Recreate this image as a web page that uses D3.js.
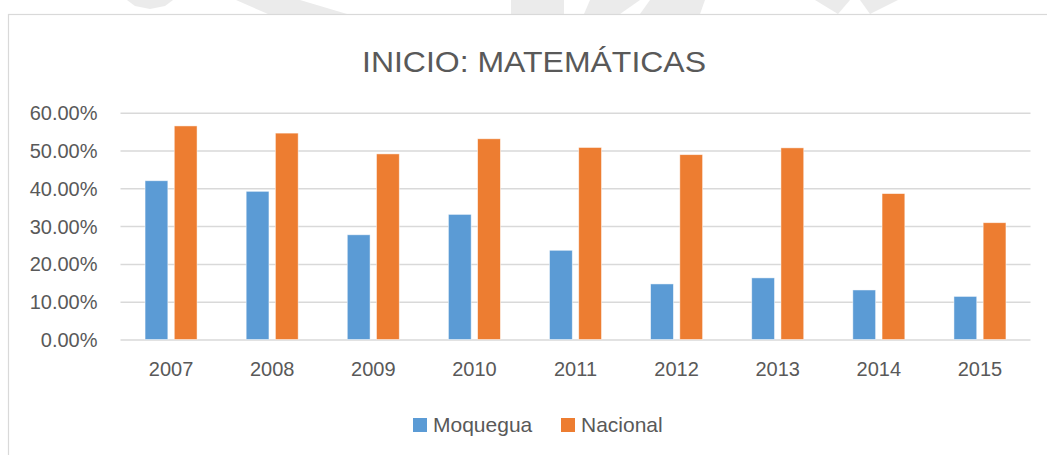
<!DOCTYPE html>
<html>
<head>
<meta charset="utf-8">
<script src="https://cdn.jsdelivr.net/npm/d3@7"></script>
<style>
  body { margin: 0; background: #fff; }
  svg text { font-family: "Liberation Sans", Arial, sans-serif; fill: #595959; }
</style>
</head>
<body>
<div id="chart"></div>
<script>
var years = ["2007", "2008", "2009", "2010", "2011", "2012", "2013", "2014", "2015"];
var moquegua = [42.0, 39.2, 27.7, 33.1, 23.6, 14.7, 16.3, 13.1, 11.4];
var nacional = [56.5, 54.6, 49.1, 53.1, 50.8, 48.9, 50.7, 38.6, 30.9];
var seriesNames = ["Moquegua", "Nacional"];
var yTicks = [0, 10, 20, 30, 40, 50, 60];

var W = 1047, H = 455;
var margin = {left: 120.5, top: 112.7, right: 16.5, bottom: 115.5},
    width = W - margin.left - margin.right,
    height = H - margin.top - margin.bottom;

var svg = d3.select("#chart").append("svg")
    .attr("width", W)
    .attr("height", H);

// faint watermark above the chart box
var wm = [
  [[127,0],[173,0],[165,6],[150,9],[135,6]],
  [[236,0],[300,0],[347,14],[268,14]],
  [[511,0],[564,0],[564,14],[511,14]],
  [[590,0],[640,0],[620,14],[584,14]],
  [[650,0],[705,0],[700,14],[640,14]],
  [[815,0],[850,0],[838,14]],
  [[860,0],[898,0],[870,14]]
];
svg.selectAll(".wm").data(wm).enter().append("polygon")
    .attr("points", function(d) { return d.map(function(p) { return p.join(","); }).join(" "); })
    .attr("fill", "#ebebeb");

// chart box
svg.append("rect")
    .attr("x", 8.5).attr("y", 14.5)
    .attr("width", W + 20).attr("height", H + 20)
    .attr("fill", "#fff")
    .attr("stroke", "#d9d9d9")
    .attr("stroke-width", 1.2);

svg.append("text")
    .attr("x", 534).attr("y", 72)
    .attr("text-anchor", "middle")
    .attr("font-size", 30)
    .attr("textLength", 344)
    .attr("lengthAdjust", "spacingAndGlyphs")
    .text("INICIO: MATEMÁTICAS");

var g = svg.append("g")
    .attr("transform", "translate(" + margin.left + "," + margin.top + ")");

var x0 = d3.scaleBand().domain(years).range([0, width]).padding(0);
var x1 = d3.scaleBand().domain(seriesNames).range([x0.bandwidth() / 2 - 26, x0.bandwidth() / 2 + 26]).paddingInner(0.22);
var y = d3.scaleLinear().domain([0, 60]).range([height, 0]);
var colours = d3.scaleOrdinal().domain(seriesNames).range(["#5B9BD5", "#ED7D31"]);

// grid
g.append("g")
    .attr("class", "grid")
    .call(d3.axisLeft(y).tickValues(yTicks).tickSize(-width).tickFormat(""))
    .call(function(s) {
      s.select(".domain").remove();
      s.selectAll("line").attr("stroke", "#d9d9d9").attr("stroke-width", 1.5);
    });

// y labels
g.append("g")
    .call(d3.axisLeft(y).tickValues(yTicks).tickSize(0).tickPadding(23)
      .tickFormat(function(d) { return d.toFixed(2) + "%"; }))
    .call(function(s) {
      s.select(".domain").remove();
      s.selectAll("text").attr("font-size", 20).attr("dy", "0.35em")
        .style("font-family", "'Liberation Sans', Arial, sans-serif").attr("fill", "#595959");
    });

// x labels
g.append("g")
    .attr("transform", "translate(0," + height + ")")
    .call(d3.axisBottom(x0).tickSize(0).tickPadding(22))
    .call(function(s) {
      s.select(".domain").remove();
      s.selectAll("text").attr("font-size", 20)
        .style("font-family", "'Liberation Sans', Arial, sans-serif").attr("fill", "#595959");
    });

var rows = years.map(function(yr, i) {
  return {year: yr, values: [{name: "Moquegua", v: moquegua[i]}, {name: "Nacional", v: nacional[i]}]};
});

g.selectAll(".yr").data(rows).enter().append("g")
    .attr("transform", function(d) { return "translate(" + x0(d.year) + ",0)"; })
  .selectAll("rect").data(function(d) { return d.values; }).enter().append("rect")
    .attr("x", function(d) { return x1(d.name); })
    .attr("y", function(d) { return y(d.v); })
    .attr("width", x1.bandwidth())
    .attr("height", function(d) { return height - y(d.v); })
    .attr("fill", function(d) { return colours(d.name); })
    .attr("stroke", "#fff")
    .attr("stroke-opacity", 0.6)
    .attr("stroke-width", 0.8);

// legend
var legendX = [413, 561];
var legend = svg.selectAll(".leg").data(seriesNames).enter().append("g")
    .attr("transform", function(d, i) { return "translate(" + legendX[i] + ",418)"; });
legend.append("rect")
    .attr("width", 14).attr("height", 14)
    .attr("fill", function(d) { return colours(d); });
legend.append("text")
    .attr("x", 20).attr("y", 7).attr("dy", "0.35em")
    .attr("font-size", 21)
    .text(function(d) { return d; });
</script>
</body>
</html>
